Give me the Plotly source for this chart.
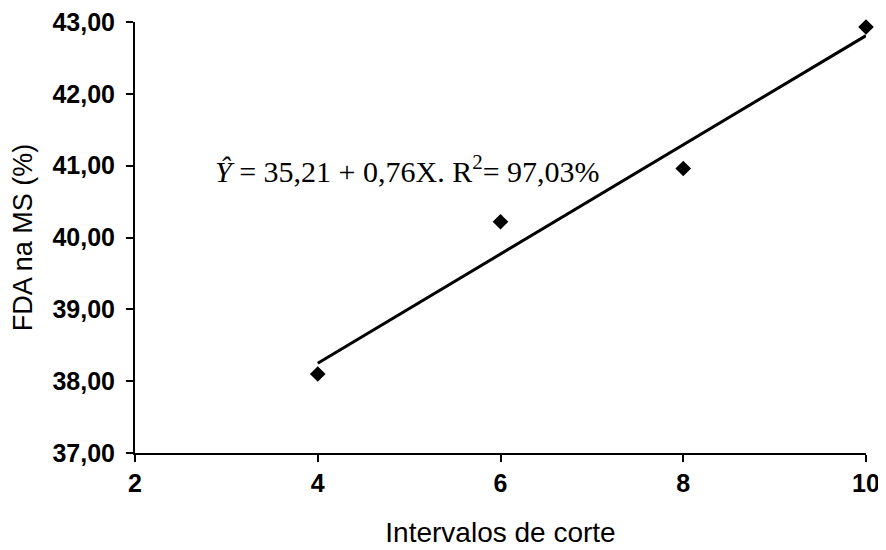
import plotly.graph_objects as go

x_vals = [4, 6, 8, 10]
y_vals = [38.10, 40.22, 40.96, 42.93]
intercept = 35.21
slope = 0.76
x_ticks = [2, 4, 6, 8, 10]
y_ticks = [37, 38, 39, 40, 41, 42, 43]

line_x = [min(x_vals), max(x_vals)]
line_y = [intercept + slope * v for v in line_x]

fig = go.Figure()
fig.add_trace(go.Scatter(x=line_x, y=line_y, mode="lines",
                         line=dict(color="black", width=3), showlegend=False,
                         cliponaxis=False))
fig.add_trace(go.Scatter(x=x_vals, y=y_vals, mode="markers",
                         marker=dict(symbol="diamond", size=12, color="black"),
                         showlegend=False, cliponaxis=False))

fig.add_annotation(
    x=2.85, y=40.95, xref="x", yref="y", xanchor="left", yanchor="middle",
    text="<i>Ŷ</i> = 35,21 + 0,76X. R<sup>2</sup>= 97,03%",
    showarrow=False,
    font=dict(family="Liberation Serif, Times New Roman, serif", size=30, color="black"))

tick_font = dict(family="Liberation Sans, Arial, sans-serif", size=25, color="black", weight="bold")
fig.update_layout(
    width=886, height=550,
    margin=dict(l=127, r=28, t=14, b=105),
    paper_bgcolor="white", plot_bgcolor="white",
    separators=",.",
    xaxis=dict(range=[2, 10], tickvals=x_ticks, showgrid=False, zeroline=False,
               automargin=False, ticklabeloverflow="allow",
               showline=True, linecolor="black", linewidth=2,
               ticks="outside", ticklen=7, tickwidth=1.5, tickcolor="black",
               tickfont=tick_font,
               title=dict(text="Intervalos de corte", standoff=26,
                          font=dict(family="Liberation Sans, Arial, sans-serif", size=28, color="black"))),
    yaxis=dict(range=[37, 43], tickvals=y_ticks, tickformat=".2f", showgrid=False, zeroline=False,
               automargin=False, ticklabelstandoff=6, ticklabeloverflow="allow",
               showline=True, linecolor="black", linewidth=2,
               ticks="outside", ticklen=7, tickwidth=1.5, tickcolor="black",
               tickfont=tick_font,
               title=dict(text="FDA na MS (%)", standoff=12,
                          font=dict(family="Liberation Sans, Arial, sans-serif", size=27, color="black"))),
)

fig.write_html("out.html")
